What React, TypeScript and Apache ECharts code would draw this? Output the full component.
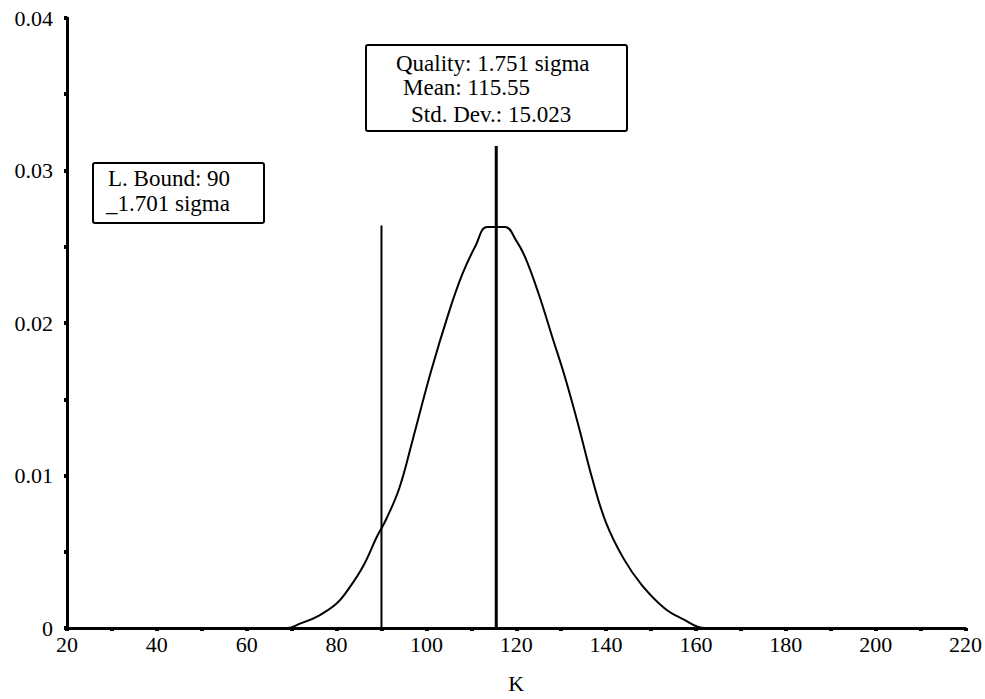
import React, { useEffect, useRef } from "react";
import * as echarts from "echarts";

const curveX = [26, 69, 72, 76, 80, 83, 86, 89, 91, 94, 97, 101, 105, 108, 111, 113.5, 117.5, 120, 122, 125, 128, 131, 134, 137, 140, 144, 148, 153, 157, 162, 207];
const curveY = [0, 0, 0.0003, 0.0008, 0.0016, 0.0027, 0.0041, 0.006, 0.0071, 0.0092, 0.0124, 0.0168, 0.0207, 0.0232, 0.0251, 0.0263, 0.0263, 0.0254, 0.0243, 0.0219, 0.0191, 0.0163, 0.0131, 0.0097, 0.0069, 0.0045, 0.0028, 0.0013, 0.0006, 0, 0];

const lowerBound = 90;
const lowerBoundTop = 0.0264;
const meanValue = 115.55;
const meanTop = 0.0316;

const qualityLines = ["Quality: 1.751 sigma", "Mean: 115.55", "Std. Dev.: 15.023"];
const boundLines = ["L. Bound: 90", "_1.701 sigma"];

const FONT = "'Liberation Serif', 'DejaVu Serif', serif";

export default function App() {
  const ref = useRef<HTMLDivElement>(null);
  useEffect(() => {
    if (!ref.current) return;
    const chart = echarts.init(ref.current, null, { renderer: "svg" });
    const curve = curveX.map((x, i) => [x, curveY[i]]);
    const txt = (x: number, y: number, t: string) => ({
      type: "text",
      left: x,
      top: y,
      style: { text: t, fill: "#000", font: `23px ${FONT}` },
    });
    chart.setOption({
      animation: false,
      backgroundColor: "#fff",
      grid: { left: 67, right: 19, top: 18, bottom: 66, containLabel: false },
      xAxis: {
        type: "value",
        min: 20,
        max: 220,
        interval: 20,
        name: "K",
        nameLocation: "middle",
        nameGap: 44,
        nameTextStyle: { color: "#000", fontFamily: FONT, fontSize: 22 },
        splitLine: { show: false },
        axisLine: { show: true, lineStyle: { color: "#000", width: 3 } },
        axisTick: { show: true, length: 3, lineStyle: { color: "#000", width: 4 } },
        minorTick: { show: true, splitNumber: 2, length: 3, lineStyle: { color: "#000", width: 4 } },
        axisLabel: { color: "#000", fontFamily: FONT, fontSize: 22, margin: 5 },
      },
      yAxis: {
        type: "value",
        min: 0,
        max: 0.04,
        interval: 0.01,
        splitLine: { show: false },
        axisLine: { show: true, lineStyle: { color: "#000", width: 3 } },
        axisTick: { show: true, length: 3, lineStyle: { color: "#000", width: 4 } },
        minorTick: { show: true, splitNumber: 2, length: 3, lineStyle: { color: "#000", width: 4 } },
        axisLabel: {
          color: "#000",
          fontFamily: FONT,
          fontSize: 22,
          margin: 14,
          formatter: (v: number) => (v === 0 ? "0" : v.toFixed(2)),
        },
      },
      series: [
        {
          type: "line",
          data: curve,
          showSymbol: false,
          smooth: 0.4,
          lineStyle: { color: "#000", width: 2 },
        },
        {
          type: "line",
          data: [[lowerBound, 0], [lowerBound, lowerBoundTop]],
          showSymbol: false,
          lineStyle: { color: "#000", width: 2 },
        },
        {
          type: "line",
          data: [[meanValue, 0], [meanValue, meanTop]],
          showSymbol: false,
          lineStyle: { color: "#000", width: 3 },
        },
      ],
      graphic: [
        {
          type: "rect",
          shape: { x: 366, y: 45, width: 261, height: 86, r: 2 },
          style: { fill: "#fff", stroke: "#000", lineWidth: 2 },
        },
        txt(396, 52, qualityLines[0]),
        txt(403, 76, qualityLines[1]),
        txt(411, 103, qualityLines[2]),
        {
          type: "rect",
          shape: { x: 93, y: 163, width: 171, height: 60, r: 2 },
          style: { fill: "#fff", stroke: "#000", lineWidth: 2 },
        },
        txt(108, 167, boundLines[0]),
        txt(106, 192, boundLines[1]),
      ],
    });
    return () => chart.dispose();
  }, []);
  return (
    <div
      ref={ref}
      style={{ position: "fixed", left: 0, top: 0, width: 985, height: 699, background: "#fff" }}
    />
  );
}
